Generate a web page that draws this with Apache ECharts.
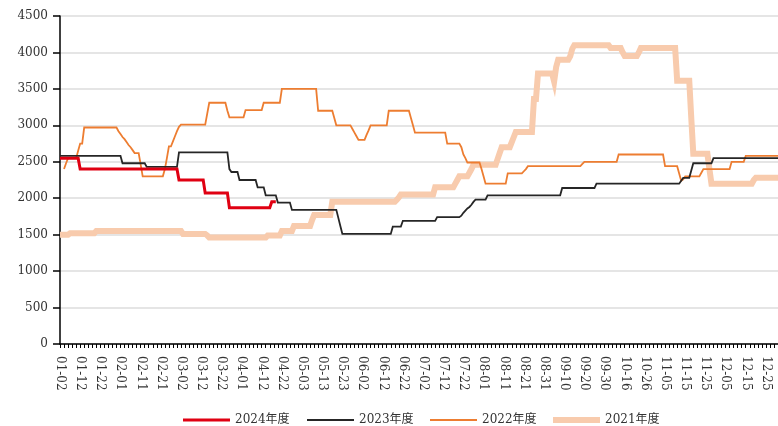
<!DOCTYPE html>
<html><head><meta charset="utf-8">
<script src="https://cdn.jsdelivr.net/npm/echarts@6/dist/echarts.min.js"></script>
<style>html,body{margin:0;padding:0;background:#fff}#c{width:778px;height:426px}</style>
</head><body><div id="c"></div>
<script>
// Category axis: calendar days (MM-DD) of a leap year, Jan 2 to Dec 31, minus holiday dates
const firstDay = '2024-01-02';
const lastDay = '2024-12-31';
const excludedDays = ['04-04', '05-01', '10-01', '10-02', '10-03', '10-04', '10-05', '10-06'];

const seriesNames = ['2024年度', '2023年度', '2022年度', '2021年度'];
const yMin = 0, yMax = 4500, yStep = 500;

// Step data: [value, last category index of that value]
const runs2024 = [[2550,9],[2400,58],[2250,71],[2070,83],[1870,104],[1950,107]];
const runs2023 = [[2580,30],[2480,42],[2430,58],[2630,83],[2400,84],[2360,88],[2250,97],[2150,101],[2040,107],[1940,114],[1840,137],[1730,138],[1620,139],[1510,164],[1610,169],[1690,186],[1740,198],[1760,199],[1800,200],[1830,201],[1860,202],[1880,203],[1910,204],[1950,205],[1980,211],[2040,248],[2140,265],[2200,307],[2240,308],[2280,312],[2380,313],[2480,323],[2550,356]];
const start2022 = 2;
const runs2022 = [[2400,2],[2480,3],[2550,8],[2650,9],[2750,11],[2970,28],[2920,29],[2880,30],[2840,31],[2810,32],[2770,33],[2730,34],[2700,35],[2660,36],[2620,39],[2460,40],[2300,51],[2400,52],[2550,53],[2710,55],[2780,56],[2850,57],[2920,58],[2980,59],[3010,72],[3160,73],[3310,82],[3200,83],[3110,91],[3210,100],[3310,109],[3500,127],[3200,135],[3100,136],[3000,144],[2950,145],[2900,146],[2850,147],[2800,151],[2870,152],[2930,153],[3000,162],[3200,173],[3100,174],[3000,175],[2900,191],[2750,198],[2700,199],[2600,200],[2550,201],[2490,208],[2400,209],[2300,210],[2200,221],[2340,229],[2370,230],[2400,231],[2440,258],[2470,259],[2500,276],[2600,299],[2440,306],[2340,307],[2240,308],[2260,309],[2300,317],[2350,318],[2400,332],[2500,339],[2580,356]];
const runs2021 = [[1500,4],[1520,17],[1550,60],[1510,72],[1490,73],[1460,102],[1490,109],[1550,115],[1620,124],[1700,125],[1770,134],[1950,166],[1980,167],[2010,168],[2050,185],[2150,195],[2200,196],[2250,197],[2300,202],[2350,203],[2400,204],[2460,216],[2540,217],[2620,218],[2700,223],[2770,224],[2840,225],[2910,234],[3360,236],[3710,244],[3600,245],[3800,246],[3900,252],[3950,253],[4050,254],[4100,272],[4060,278],[4000,279],[3950,286],[4000,287],[4060,305],[3610,312],[3100,313],[2610,321],[2400,322],[2200,343],[2250,344],[2280,356]];

function buildCategories() {
  const out = [];
  const d = new Date(firstDay + 'T00:00:00Z');
  const end = new Date(lastDay + 'T00:00:00Z');
  while (d <= end) {
    const mm = String(d.getUTCMonth() + 1).padStart(2, '0');
    const dd = String(d.getUTCDate()).padStart(2, '0');
    const key = mm + '-' + dd;
    if (excludedDays.indexOf(key) < 0) out.push(key);
    d.setUTCDate(d.getUTCDate() + 1);
  }
  return out;
}
function expandRuns(runs, startIdx) {
  const out = [];
  let i = 0;
  for (; i < (startIdx || 0); i++) out.push(null);
  for (const [v, last] of runs) { while (i <= last) { out.push(v); i++; } }
  return out;
}

const categories = buildCategories();
const data2024 = expandRuns(runs2024, 0);
const data2023 = expandRuns(runs2023, 0);
const data2022 = expandRuns(runs2022, start2022);
const data2021 = expandRuns(runs2021, 0);

const FONT = "'DejaVu Serif', 'Noto Sans CJK SC', serif";
const colors = ['#e00012', '#262626', '#ed7d31', '#f8cbad'];
const widths = [3, 1.8, 1.8, 6];
const legendLefts = [178, 302, 425, 548];

const chart = echarts.init(document.getElementById('c'), null, {renderer: 'canvas'});
const mk = (k, data, z) => ({
  name: seriesNames[k], type: 'line', data, symbol: 'none', showSymbol: false, z,
  lineStyle: {color: colors[k], width: widths[k], cap: 'butt', join: 'miter'}, itemStyle: {color: colors[k]},
  emphasis: {disabled: true}, animation: false
});
chart.setOption({
  animation: false,
  backgroundColor: '#ffffff',
  grid: {left: 60, top: 16, width: 726, height: 328, containLabel: false},
  legend: seriesNames.map((n, k) => ({
    left: legendLefts[k], top: 409, itemWidth: 47, itemHeight: Math.max(2, Math.round(widths[k])),
    icon: 'rect', selectedMode: false,
    textStyle: {fontFamily: FONT, fontSize: 12, color: '#333'},
    data: [n]
  })),
  xAxis: {
    type: 'category', data: categories, boundaryGap: false,
    axisLine: {lineStyle: {color: '#000', width: 1.5}},
    axisTick: {show: true, interval: 1, length: 4, lineStyle: {color: '#000', width: 1}},
    axisLabel: {interval: 9, rotate: -90, margin: 12, fontFamily: FONT, fontSize: 12, color: '#333'},
    splitLine: {show: false}
  },
  yAxis: {
    type: 'value', min: yMin, max: yMax, interval: yStep,
    axisLine: {show: true, lineStyle: {color: '#000', width: 1.5}},
    axisTick: {show: true, length: 7, lineStyle: {color: '#000', width: 1.5}},
    axisLabel: {margin: 12, fontFamily: FONT, fontSize: 12, color: '#333', formatter: v => String(v)},
    splitLine: {show: true, lineStyle: {color: '#dcdcdc', width: 1.5}}
  },
  series: [
    mk(0, data2024, 5),
    mk(1, data2023, 4),
    mk(2, data2022, 3),
    mk(3, data2021, 2)
  ]
});
</script></body></html>
